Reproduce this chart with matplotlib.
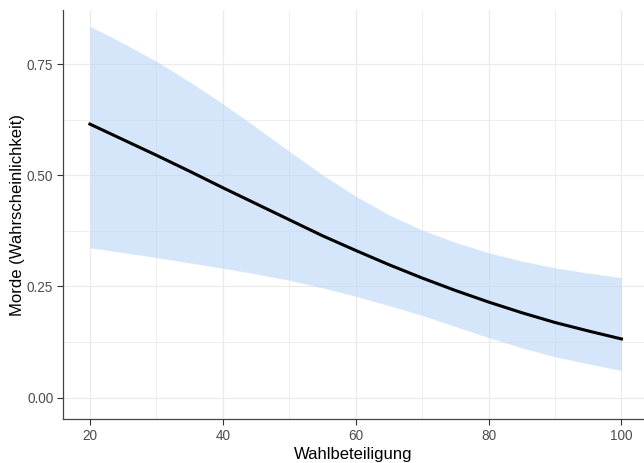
import matplotlib.pyplot as plt
from matplotlib.ticker import MultipleLocator

# Vorhergesagte Wahrscheinlichkeit mit Konfidenzband
wahlbeteiligung = [20, 25, 30, 35, 40, 45, 50, 55, 60, 65, 70, 75, 80, 85, 90, 95, 100]
fit = [0.615, 0.580, 0.545, 0.509, 0.472, 0.436, 0.400, 0.364, 0.331,
       0.299, 0.269, 0.241, 0.215, 0.191, 0.169, 0.150, 0.132]
upper = [0.835, 0.797, 0.756, 0.710, 0.661, 0.608, 0.554, 0.501, 0.453,
         0.411, 0.377, 0.349, 0.326, 0.307, 0.292, 0.280, 0.270]
lower = [0.337, 0.326, 0.315, 0.303, 0.291, 0.278, 0.264, 0.247, 0.228,
         0.207, 0.185, 0.160, 0.135, 0.112, 0.092, 0.076, 0.061]

x_ticks = [20, 40, 60, 80, 100]
y_ticks = [0.00, 0.25, 0.50, 0.75]
y_labels = ['0.00', '0.25', '0.50', '0.75']

plt.rcParams['font.family'] = ['Liberation Sans', 'DejaVu Sans']

fig = plt.figure(figsize=(6.44, 4.63), dpi=100)
ax = fig.add_axes([0.0978, 0.095, 0.9022, 0.883])

ax.fill_between(wahlbeteiligung, lower, upper, color='#bcd6f8', alpha=0.6,
                linewidth=0, zorder=2)
ax.plot(wahlbeteiligung, fit, color='black', linewidth=2.2, zorder=3)

ax.set_xlim(15.95, 103.4)
ax.set_ylim(-0.048, 0.871)
ax.set_xticks(x_ticks)
ax.set_yticks(y_ticks)
ax.set_yticklabels(y_labels)
ax.xaxis.set_minor_locator(MultipleLocator(10))
ax.yaxis.set_minor_locator(MultipleLocator(0.125))

ax.set_axisbelow(True)
ax.grid(which='major', color='#ebebeb', linewidth=0.9)
ax.grid(which='minor', color='#ebebeb', linewidth=0.6)
ax.tick_params(which='minor', length=0)
ax.tick_params(which='major', length=4, width=0.8, color='#333333',
               labelcolor='#4d4d4d', labelsize=9.8, pad=3)

for side in ['top', 'right']:
    ax.spines[side].set_visible(False)
for side in ['left', 'bottom']:
    ax.spines[side].set_color('#444444')
    ax.spines[side].set_linewidth(0.9)

ax.set_xlabel('Wahlbeteiligung', fontsize=12, labelpad=3)
ax.set_ylabel('Morde (Wahrscheinlichkeit)', fontsize=12, labelpad=1)

fig.savefig('out.png', dpi=100)
